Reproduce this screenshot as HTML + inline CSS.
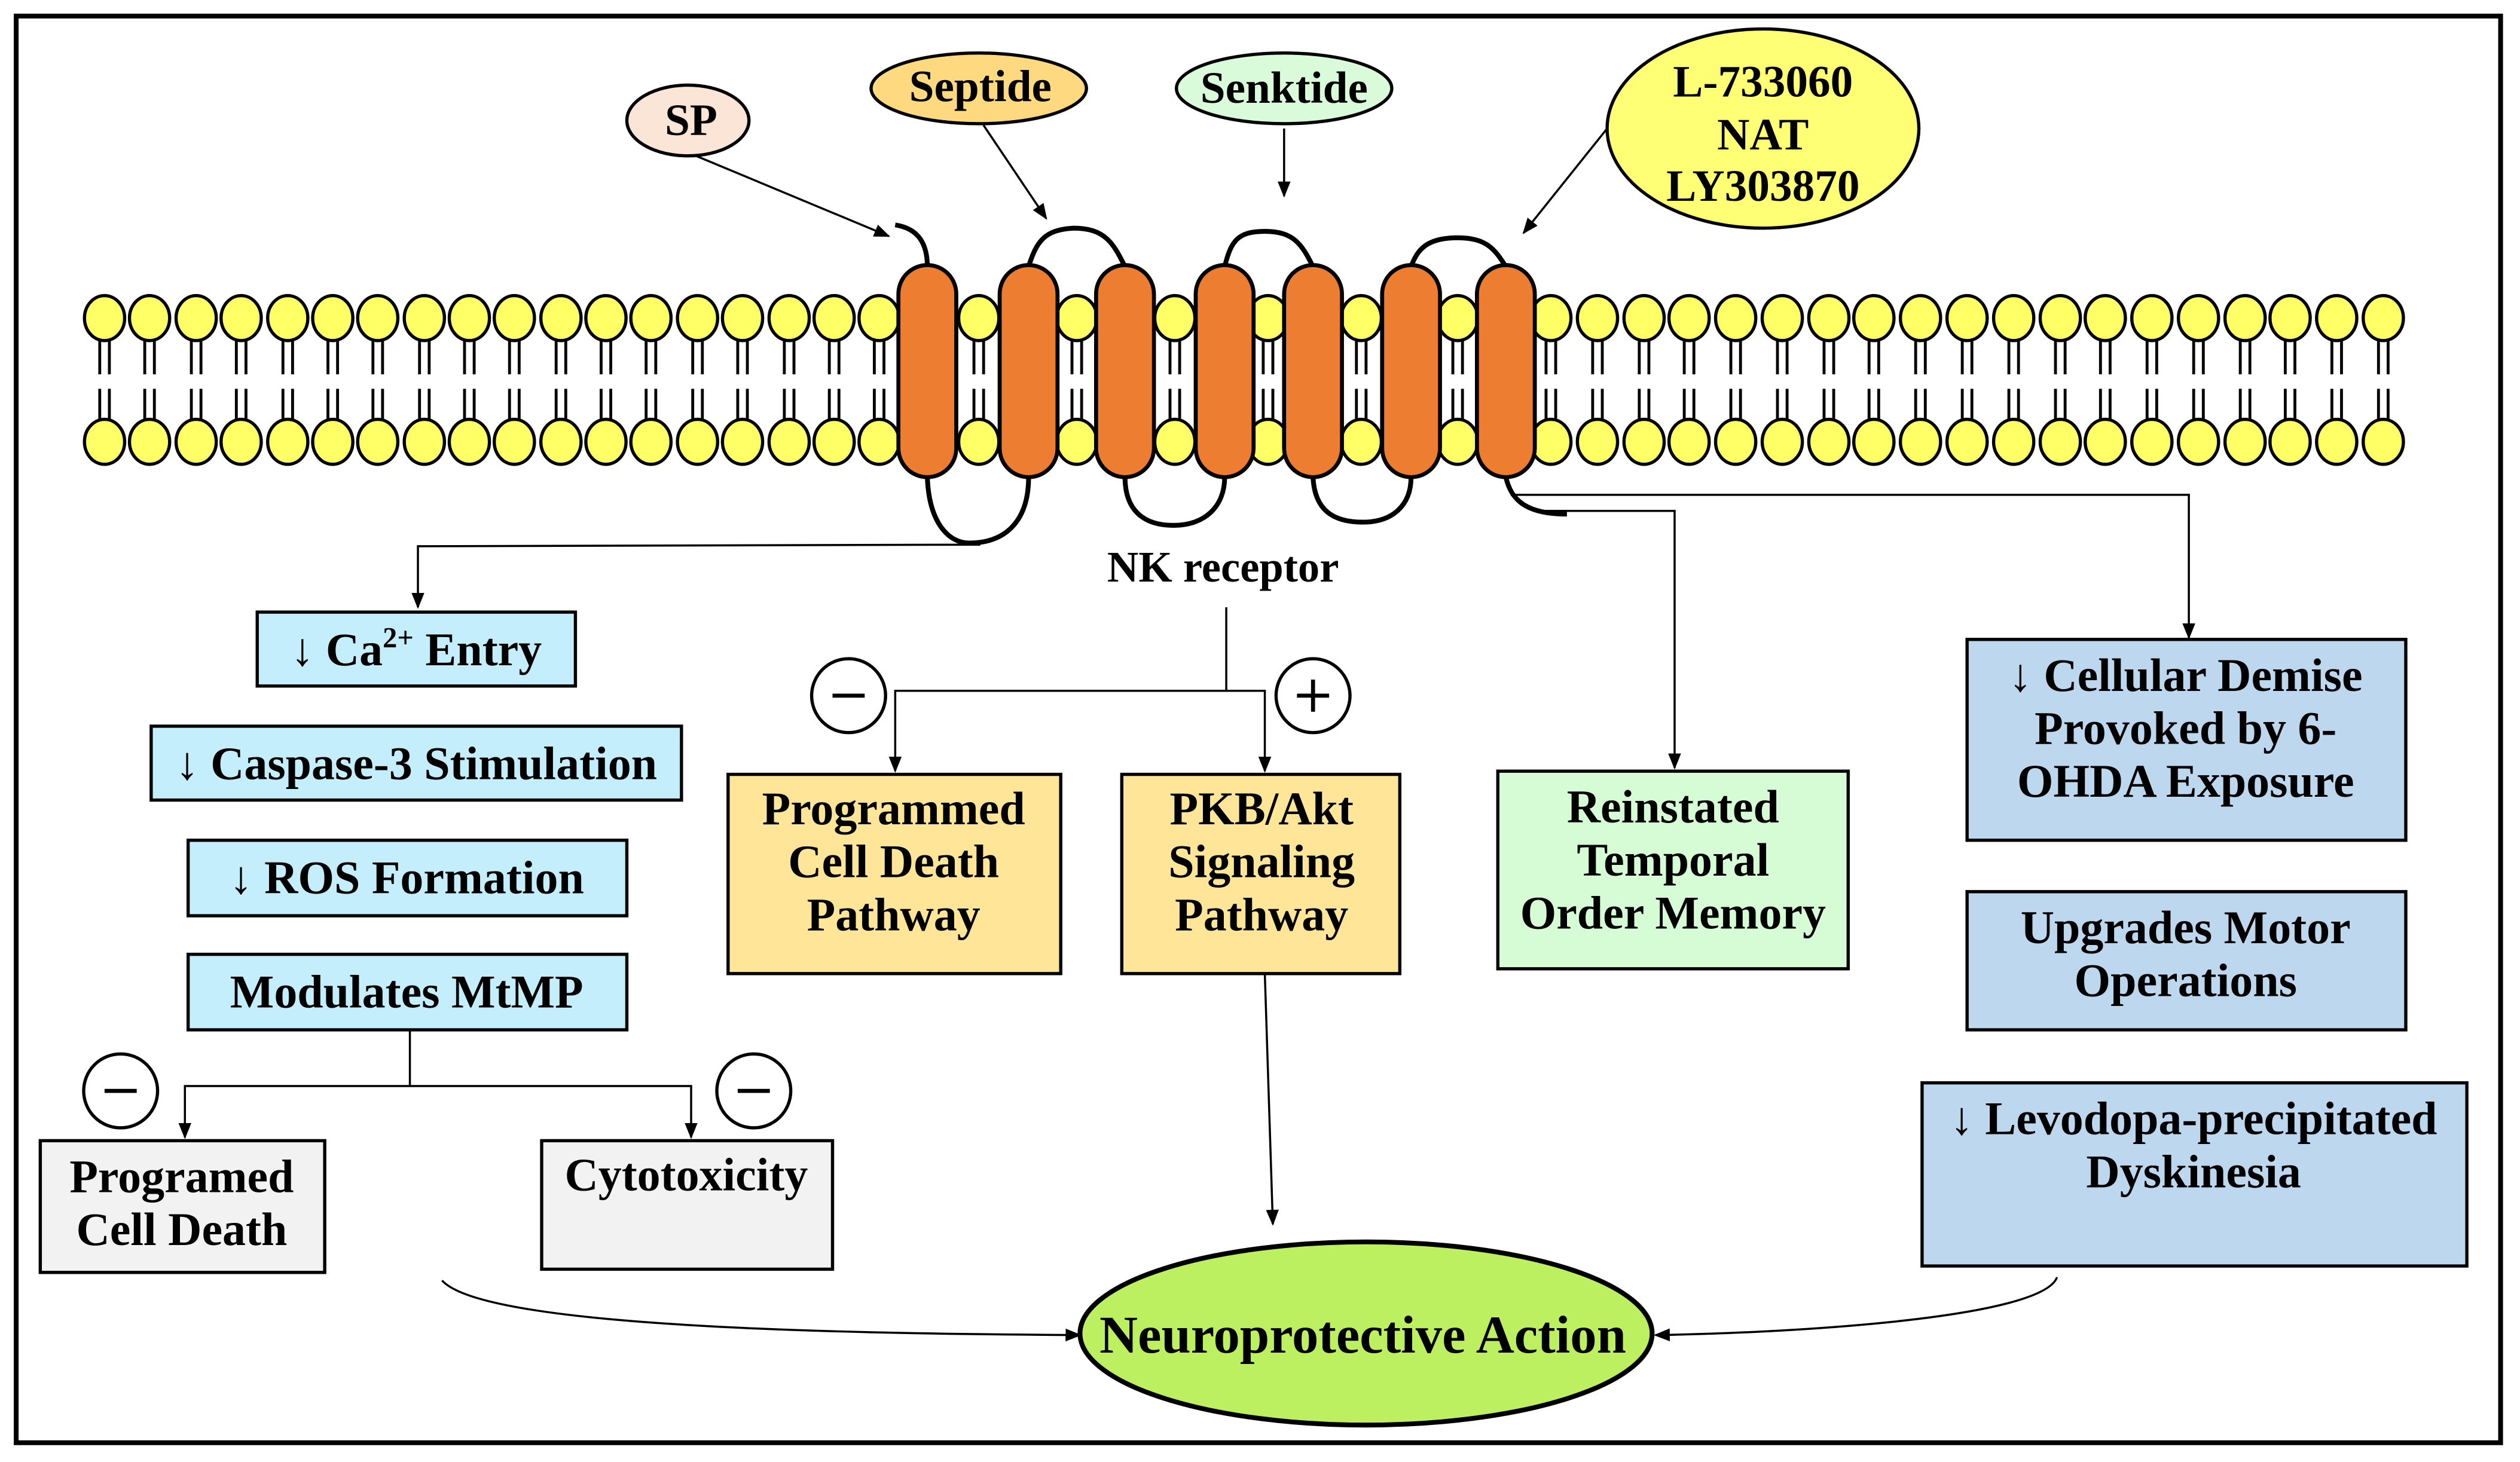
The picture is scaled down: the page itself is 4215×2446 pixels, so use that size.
<!DOCTYPE html>
<html><head><meta charset="utf-8"><style>html,body{margin:0;padding:0;background:#fff}svg{display:block}text{font-family:"Liberation Serif",serif;font-weight:bold;fill:#000}</style></head>
<body>
<svg width="4215" height="2446" viewBox="0 0 1568 910" xmlns="http://www.w3.org/2000/svg">
<defs><marker id="a" markerWidth="10" markerHeight="10" refX="9" refY="5" orient="auto" markerUnits="userSpaceOnUse"><path d="M0,1 L10,5 L0,9 Z" fill="#000"/></marker></defs>
<rect x="10" y="10" width="1546" height="888" fill="#fff" stroke="#000" stroke-width="3"/>
<g stroke="#000" stroke-width="2">
<g fill="#ffff66">
<ellipse cx="65" cy="198" rx="12.5" ry="14"/><ellipse cx="93" cy="198" rx="12.5" ry="14"/><ellipse cx="122" cy="198" rx="12.5" ry="14"/><ellipse cx="150" cy="198" rx="12.5" ry="14"/><ellipse cx="179" cy="198" rx="12.5" ry="14"/><ellipse cx="207" cy="198" rx="12.5" ry="14"/><ellipse cx="235" cy="198" rx="12.5" ry="14"/><ellipse cx="264" cy="198" rx="12.5" ry="14"/><ellipse cx="292" cy="198" rx="12.5" ry="14"/><ellipse cx="320" cy="198" rx="12.5" ry="14"/><ellipse cx="349" cy="198" rx="12.5" ry="14"/><ellipse cx="377" cy="198" rx="12.5" ry="14"/><ellipse cx="405" cy="198" rx="12.5" ry="14"/><ellipse cx="434" cy="198" rx="12.5" ry="14"/><ellipse cx="462" cy="198" rx="12.5" ry="14"/><ellipse cx="491" cy="198" rx="12.5" ry="14"/><ellipse cx="519" cy="198" rx="12.5" ry="14"/><ellipse cx="547" cy="198" rx="12.5" ry="14"/><ellipse cx="609" cy="198" rx="12.5" ry="14"/><ellipse cx="670" cy="198" rx="12.5" ry="14"/><ellipse cx="731" cy="198" rx="12.5" ry="14"/><ellipse cx="789" cy="198" rx="12.5" ry="14"/><ellipse cx="847" cy="198" rx="12.5" ry="14"/><ellipse cx="907" cy="198" rx="12.5" ry="14"/><ellipse cx="965" cy="198" rx="12.5" ry="14"/><ellipse cx="994" cy="198" rx="12.5" ry="14"/><ellipse cx="1023" cy="198" rx="12.5" ry="14"/><ellipse cx="1051" cy="198" rx="12.5" ry="14"/><ellipse cx="1080" cy="198" rx="12.5" ry="14"/><ellipse cx="1109" cy="198" rx="12.5" ry="14"/><ellipse cx="1138" cy="198" rx="12.5" ry="14"/><ellipse cx="1166" cy="198" rx="12.5" ry="14"/><ellipse cx="1195" cy="198" rx="12.5" ry="14"/><ellipse cx="1224" cy="198" rx="12.5" ry="14"/><ellipse cx="1253" cy="198" rx="12.5" ry="14"/><ellipse cx="1282" cy="198" rx="12.5" ry="14"/><ellipse cx="1310" cy="198" rx="12.5" ry="14"/><ellipse cx="1339" cy="198" rx="12.5" ry="14"/><ellipse cx="1368" cy="198" rx="12.5" ry="14"/><ellipse cx="1397" cy="198" rx="12.5" ry="14"/><ellipse cx="1425" cy="198" rx="12.5" ry="14"/><ellipse cx="1454" cy="198" rx="12.5" ry="14"/><ellipse cx="1483" cy="198" rx="12.5" ry="14"/>
<ellipse cx="65" cy="275" rx="12.5" ry="14"/><ellipse cx="93" cy="275" rx="12.5" ry="14"/><ellipse cx="122" cy="275" rx="12.5" ry="14"/><ellipse cx="150" cy="275" rx="12.5" ry="14"/><ellipse cx="179" cy="275" rx="12.5" ry="14"/><ellipse cx="207" cy="275" rx="12.5" ry="14"/><ellipse cx="235" cy="275" rx="12.5" ry="14"/><ellipse cx="264" cy="275" rx="12.5" ry="14"/><ellipse cx="292" cy="275" rx="12.5" ry="14"/><ellipse cx="320" cy="275" rx="12.5" ry="14"/><ellipse cx="349" cy="275" rx="12.5" ry="14"/><ellipse cx="377" cy="275" rx="12.5" ry="14"/><ellipse cx="405" cy="275" rx="12.5" ry="14"/><ellipse cx="434" cy="275" rx="12.5" ry="14"/><ellipse cx="462" cy="275" rx="12.5" ry="14"/><ellipse cx="491" cy="275" rx="12.5" ry="14"/><ellipse cx="519" cy="275" rx="12.5" ry="14"/><ellipse cx="547" cy="275" rx="12.5" ry="14"/><ellipse cx="609" cy="275" rx="12.5" ry="14"/><ellipse cx="670" cy="275" rx="12.5" ry="14"/><ellipse cx="731" cy="275" rx="12.5" ry="14"/><ellipse cx="789" cy="275" rx="12.5" ry="14"/><ellipse cx="847" cy="275" rx="12.5" ry="14"/><ellipse cx="907" cy="275" rx="12.5" ry="14"/><ellipse cx="965" cy="275" rx="12.5" ry="14"/><ellipse cx="994" cy="275" rx="12.5" ry="14"/><ellipse cx="1023" cy="275" rx="12.5" ry="14"/><ellipse cx="1051" cy="275" rx="12.5" ry="14"/><ellipse cx="1080" cy="275" rx="12.5" ry="14"/><ellipse cx="1109" cy="275" rx="12.5" ry="14"/><ellipse cx="1138" cy="275" rx="12.5" ry="14"/><ellipse cx="1166" cy="275" rx="12.5" ry="14"/><ellipse cx="1195" cy="275" rx="12.5" ry="14"/><ellipse cx="1224" cy="275" rx="12.5" ry="14"/><ellipse cx="1253" cy="275" rx="12.5" ry="14"/><ellipse cx="1282" cy="275" rx="12.5" ry="14"/><ellipse cx="1310" cy="275" rx="12.5" ry="14"/><ellipse cx="1339" cy="275" rx="12.5" ry="14"/><ellipse cx="1368" cy="275" rx="12.5" ry="14"/><ellipse cx="1397" cy="275" rx="12.5" ry="14"/><ellipse cx="1425" cy="275" rx="12.5" ry="14"/><ellipse cx="1454" cy="275" rx="12.5" ry="14"/><ellipse cx="1483" cy="275" rx="12.5" ry="14"/>
</g>
<path fill="none" stroke-width="1.8" d="M62,212v21M68,212v21M90,212v21M96,212v21M119,212v21M125,212v21M147,212v21M153,212v21M176,212v21M182,212v21M204,212v21M210,212v21M232,212v21M238,212v21M261,212v21M267,212v21M289,212v21M295,212v21M317,212v21M323,212v21M346,212v21M352,212v21M374,212v21M380,212v21M402,212v21M408,212v21M431,212v21M437,212v21M459,212v21M465,212v21M488,212v21M494,212v21M516,212v21M522,212v21M544,212v21M550,212v21M606,212v21M612,212v21M667,212v21M673,212v21M728,212v21M734,212v21M786,212v21M792,212v21M844,212v21M850,212v21M904,212v21M910,212v21M962,212v21M968,212v21M991,212v21M997,212v21M1020,212v21M1026,212v21M1048,212v21M1054,212v21M1077,212v21M1083,212v21M1106,212v21M1112,212v21M1135,212v21M1141,212v21M1163,212v21M1169,212v21M1192,212v21M1198,212v21M1221,212v21M1227,212v21M1250,212v21M1256,212v21M1279,212v21M1285,212v21M1307,212v21M1313,212v21M1336,212v21M1342,212v21M1365,212v21M1371,212v21M1394,212v21M1400,212v21M1422,212v21M1428,212v21M1451,212v21M1457,212v21M1480,212v21M1486,212v21
M62,242v20M68,242v20M90,242v20M96,242v20M119,242v20M125,242v20M147,242v20M153,242v20M176,242v20M182,242v20M204,242v20M210,242v20M232,242v20M238,242v20M261,242v20M267,242v20M289,242v20M295,242v20M317,242v20M323,242v20M346,242v20M352,242v20M374,242v20M380,242v20M402,242v20M408,242v20M431,242v20M437,242v20M459,242v20M465,242v20M488,242v20M494,242v20M516,242v20M522,242v20M544,242v20M550,242v20M606,242v20M612,242v20M667,242v20M673,242v20M728,242v20M734,242v20M786,242v20M792,242v20M844,242v20M850,242v20M904,242v20M910,242v20M962,242v20M968,242v20M991,242v20M997,242v20M1020,242v20M1026,242v20M1048,242v20M1054,242v20M1077,242v20M1083,242v20M1106,242v20M1112,242v20M1135,242v20M1141,242v20M1163,242v20M1169,242v20M1192,242v20M1198,242v20M1221,242v20M1227,242v20M1250,242v20M1256,242v20M1279,242v20M1285,242v20M1307,242v20M1313,242v20M1336,242v20M1342,242v20M1365,242v20M1371,242v20M1394,242v20M1400,242v20M1422,242v20M1428,242v20M1451,242v20M1457,242v20M1480,242v20M1486,242v20"/>
</g>
<g fill="none" stroke="#000" stroke-width="3">
<path d="M577,166 C577,150 570,142 557,140"/>
<path d="M640,166 C645,150 650,143 668,142 C688,142 693,152 700,166"/>
<path d="M762,166 C766,150 770,144 787,144 C805,144 810,152 817,166"/>
<path d="M878,166 C882,155 888,148 907,148 C925,148 930,155 937,166"/>
<path d="M577,297 C578,325 590,338 603,338 C625,338 640,325 640,297"/>
<path d="M700,297 C700,318 712,327 730,327 C750,327 762,315 762,297"/>
<path d="M817,297 C818,318 830,325 848,325 C866,325 878,315 878,297"/>
<path d="M937,297 C940,310 948,320 975,320"/>
</g>
<g fill="#ed7d31" stroke="#000" stroke-width="2.5">
<rect x="559" y="165" width="36" height="132" rx="18"/><rect x="622" y="165" width="36" height="132" rx="18"/><rect x="682" y="165" width="36" height="132" rx="18"/><rect x="744" y="165" width="36" height="132" rx="18"/><rect x="799" y="165" width="36" height="132" rx="18"/><rect x="860" y="165" width="36" height="132" rx="18"/><rect x="919" y="165" width="36" height="132" rx="18"/>
</g>
<g stroke="#000" stroke-width="2">
<ellipse cx="428" cy="75" rx="38" ry="22" fill="#fbe5d6"/>
<ellipse cx="609" cy="55" rx="67" ry="22" fill="#ffd97f"/>
<ellipse cx="799" cy="55" rx="67" ry="22" fill="#d9fbd9"/>
<ellipse cx="1097" cy="80" rx="97" ry="62" fill="#ffff75"/>
<ellipse cx="850" cy="830" rx="178" ry="57" fill="#bdf060" stroke-width="3"/>
</g>
<g font-size="28" text-anchor="middle">
<text x="430" y="84">SP</text>
<text x="610" y="63">Septide</text>
<text x="799" y="64">Senktide</text>
<text x="1097" y="60">L-733060</text>
<text x="1097" y="93">NAT</text>
<text x="1097" y="125">LY303870</text>
<text x="761" y="362" font-size="27">NK receptor</text>
<text x="848" y="842" font-size="33">Neuroprotective Action</text>
</g>
<g fill="none" stroke="#000" stroke-width="1.3" marker-end="url(#a)">
<path d="M433,97 L553,147"/>
<path d="M612,78 L651,136"/>
<path d="M799,80 L799,122"/>
<path d="M1000,80 L948,145"/>
<path d="M610,339 L260,340 L260,378"/>
<path d="M763,378 L763,430 L557,430 L557,480"/>
<path d="M763,430 L787,430 L787,480"/>
<path d="M960,318 L1042,318 L1042,478"/>
<path d="M940,308 L1362,308 L1362,397"/>
<path d="M255,641 L255,676 L115,676 L115,708"/>
<path d="M255,676 L430,676 L430,708"/>
<path d="M787,606 L792,762"/>
<path d="M275,797 C300,825 500,830 672,831"/>
<path d="M1280,795 C1270,822 1100,830 1030,831"/>
</g>
<g stroke="#000" stroke-width="2" fill="#fff">
<circle cx="528" cy="433" r="23"/><circle cx="817" cy="433" r="23"/><circle cx="75" cy="679" r="23"/><circle cx="469" cy="679" r="23"/>
<path d="M518,433h20M65,679h20M459,679h20M807,433h20M817,423v20" stroke-width="2.5"/>
</g>
<g stroke="#000" stroke-width="2">
<rect x="160" y="381" width="198" height="46" fill="#c5eefc"/>
<rect x="94" y="452" width="330" height="46" fill="#c5eefc"/>
<rect x="117" y="523" width="273" height="47" fill="#c5eefc"/>
<rect x="117" y="594" width="273" height="47" fill="#c5eefc"/>
<rect x="25" y="710" width="177" height="82" fill="#f2f2f2"/>
<rect x="337" y="710" width="181" height="80" fill="#f2f2f2"/>
<rect x="453" y="482" width="207" height="124" fill="#ffe597"/>
<rect x="698" y="482" width="173" height="124" fill="#ffe597"/>
<rect x="932" y="480" width="218" height="123" fill="#d6fcd6"/>
<rect x="1224" y="398" width="273" height="125" fill="#bdd7ee"/>
<rect x="1224" y="555" width="273" height="86" fill="#bdd7ee"/>
<rect x="1196" y="674" width="339" height="114" fill="#bdd7ee"/>
</g>
<g font-size="29" text-anchor="middle">
<text x="259" y="414">↓ Ca<tspan font-size="18" dy="-11">2+</tspan><tspan dy="11"> Entry</tspan></text>
<text x="259" y="485">↓ Caspase-3 Stimulation</text>
<text x="253" y="556">↓ ROS Formation</text>
<text x="253" y="627">Modulates MtMP</text>
<text x="113" y="742">Programed</text><text x="113" y="775">Cell Death</text>
<text x="427" y="741">Cytotoxicity</text>
<text x="556" y="513">Programmed</text><text x="556" y="546">Cell Death</text><text x="556" y="579">Pathway</text>
<text x="785" y="513">PKB/Akt</text><text x="785" y="546">Signaling</text><text x="785" y="579">Pathway</text>
<text x="1041" y="512">Reinstated</text><text x="1041" y="545">Temporal</text><text x="1041" y="578">Order Memory</text>
<text x="1360" y="430">↓ Cellular Demise</text><text x="1360" y="463">Provoked by 6-</text><text x="1360" y="496">OHDA Exposure</text>
<text x="1360" y="587">Upgrades Motor</text><text x="1360" y="620">Operations</text>
<text x="1365" y="706">↓ Levodopa-precipitated</text><text x="1365" y="739">Dyskinesia</text>
</g>
</svg>
</body></html>
